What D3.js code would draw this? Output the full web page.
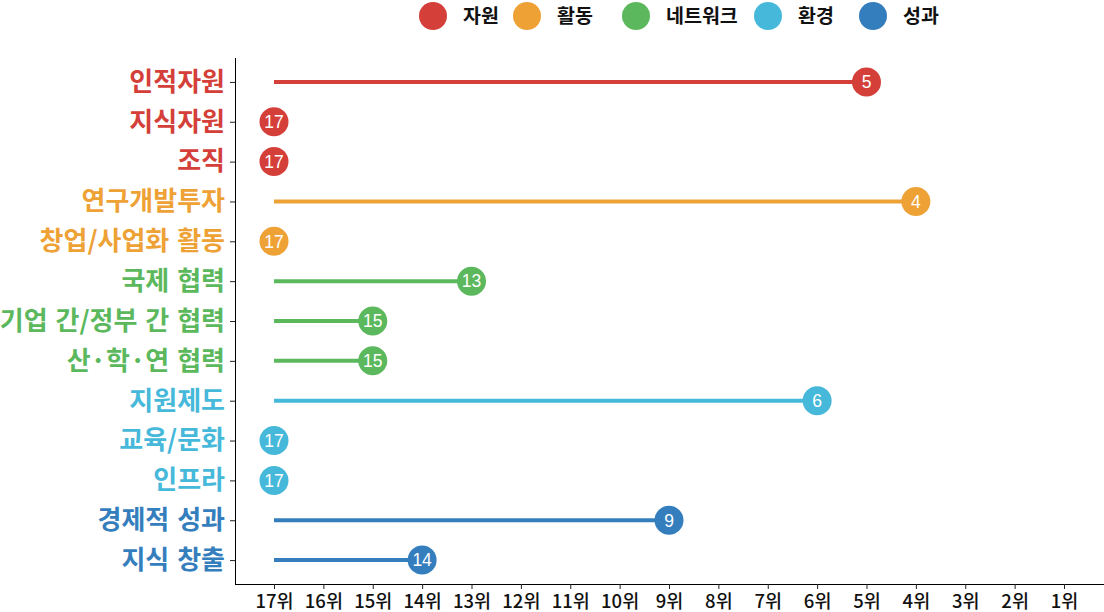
<!DOCTYPE html>
<html><head><meta charset="utf-8">
<script src="https://cdn.jsdelivr.net/npm/d3@7"></script>
<style>body{margin:0;background:#fff}svg{display:block}</style>
</head><body>
<svg id="c" width="1104" height="612"></svg>
<script>
const categories = ["인적자원","지식자원","조직","연구개발투자","창업/사업화 활동","국제 협력","기업 간/정부 간 협력","산·학·연 협력","지원제도","교육/문화","인프라","경제적 성과","지식 창출"];
const ranks = [5,17,17,4,17,13,15,15,6,17,17,9,14];
const groups = ["자원","자원","자원","활동","활동","네트워크","네트워크","네트워크","환경","환경","환경","성과","성과"];
const groupNames = ["자원","활동","네트워크","환경","성과"];
const groupColors = ["#D43F3A","#EEA236","#5CB85C","#46B8DA","#357EBD"];
const tickValues = [17,16,15,14,13,12,11,10,9,8,7,6,5,4,3,2,1];

const svg = d3.select("#c");
const font = "'Noto Sans CJK KR', 'Noto Sans', sans-serif";
const color = d3.scaleOrdinal().domain(groupNames).range(groupColors);
const x = d3.scaleLinear().domain([17,1]).range([274,1064]);
const y = d3.scalePoint().domain(categories).range([58,584]).padding(0.6);

// axes
const xAxis = svg.append("g").attr("transform","translate(0,584)")
  .call(d3.axisBottom(x).tickValues(tickValues).tickSize(5).tickFormat(d=>d+"위"));
xAxis.select(".domain").attr("d","M235,0.5H1104");
xAxis.selectAll("text").attr("font-family",font).attr("font-size",18.5).attr("font-weight",500).attr("fill","#111").attr("y",8).attr("dy","0.88em");
xAxis.selectAll("line").attr("stroke","#222");

const yAxis = svg.append("g").attr("transform","translate(235,0)")
  .call(d3.axisLeft(y).tickSize(5).tickPadding(5));
yAxis.select(".domain").attr("d","M0.5,58V584");
yAxis.selectAll("line").attr("stroke","#222");
yAxis.selectAll("text").attr("font-family",font).attr("font-size",26).attr("font-weight",700)
  .attr("word-spacing",2)
  .attr("fill",(d,i)=>color(groups[i]));

const data = categories.map((c,i)=>({c, r:ranks[i], g:groups[i]}));
svg.append("g").selectAll("line").data(data.filter(d=>d.r!==17)).join("line")
  .attr("x1",x(17)).attr("x2",d=>x(d.r)).attr("y1",d=>y(d.c)).attr("y2",d=>y(d.c))
  .attr("stroke",d=>color(d.g)).attr("stroke-width",4);
svg.append("g").selectAll("circle").data(data).join("circle")
  .attr("cx",d=>x(d.r)).attr("cy",d=>y(d.c)).attr("r",14.5).attr("fill",d=>color(d.g));
svg.append("g").selectAll("text").data(data).join("text")
  .attr("x",d=>x(d.r)).attr("y",d=>y(d.c)).attr("dy","0.36em").attr("text-anchor","middle")
  .attr("font-family","'Liberation Sans', Arial, sans-serif").attr("font-size",17.5).attr("fill","#fff")
  .text(d=>d.r);

// legend
const lx = [433,527,636,768,873];
const leg = svg.append("g").selectAll("g").data(groupNames).join("g")
  .attr("transform",(d,i)=>`translate(${lx[i]},16)`);
leg.append("circle").attr("r",14).attr("fill",d=>color(d));
leg.append("text").attr("x",30).attr("dy","0.36em").attr("font-family",font).attr("font-size",19.5).attr("font-weight",700).attr("fill","#111").text(d=>d);
</script>
</body></html>
